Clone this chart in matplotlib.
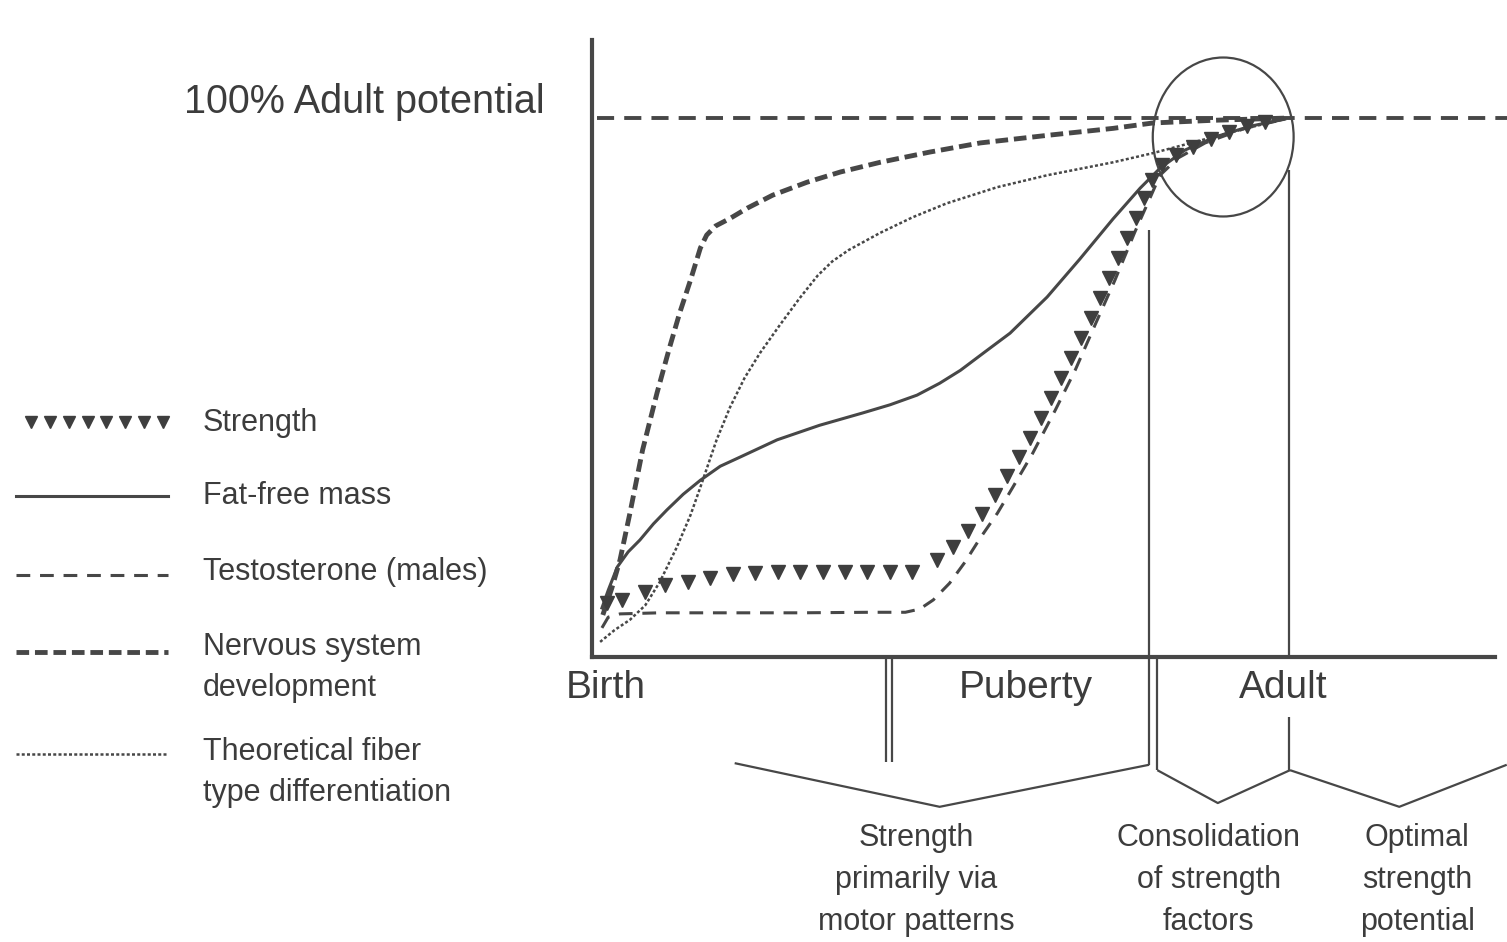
import numpy as np
import matplotlib
matplotlib.use("Agg")
import matplotlib.pyplot as plt
from matplotlib.patches import Ellipse

plt.rcParams['font.family'] = ['Liberation Sans', 'DejaVu Sans']

# ---------------- data (x: developmental stage, 0 = birth; y: % of adult potential)
strength_x = [1.7, 3.3, 5.9, 8.1, 10.6, 13.1, 15.6, 18.1, 20.6, 23.0, 25.6, 28.0, 30.5, 33.0, 35.4,
              38.2, 40.0, 41.6, 43.2, 44.6, 46.0, 47.3, 48.5, 49.7, 50.8, 51.9, 53.0, 54.2, 55.3,
              56.3, 57.3, 58.3, 59.2, 60.2, 61.1, 62.0, 63.1, 64.7, 66.6, 68.5, 70.5, 72.5, 74.5]
strength_y = [10.0, 10.6, 12.1, 13.4, 13.9, 14.7, 15.4, 15.6, 15.8, 15.8, 15.8, 15.8, 15.8, 15.8, 15.8,
              18.0, 20.4, 23.4, 26.5, 30.1, 33.6, 37.1, 40.6, 44.3, 48.1, 51.8, 55.5, 59.2, 62.9,
              66.6, 70.3, 74.0, 77.7, 81.4, 85.2, 88.5, 91.3, 93.1, 94.6, 96.1, 97.4, 98.5, 99.3]

ffm_x = [1.1, 1.8, 2.8, 4.0, 5.3, 6.8, 8.3, 10.1, 12.0, 14.2, 16.4, 20.5, 25.2, 30.0, 33.0, 36.0,
         38.5, 40.8, 43.5, 46.3, 50.4, 54.0, 57.7, 60.7, 62.9, 65.7, 69.0, 72.9, 76.7]
ffm_y = [9.1, 12.4, 16.7, 19.5, 21.7, 24.7, 27.3, 30.2, 32.8, 35.4, 37.1, 40.3, 43.0, 45.3, 46.8, 48.6,
         50.8, 53.2, 56.6, 60.1, 66.8, 73.8, 81.3, 87.0, 90.7, 94.1, 96.5, 98.5, 99.8]

testo_x = [1.1, 1.8, 3.1, 7.5, 14.2, 23.0, 30.8, 34.7, 36.3, 37.8, 39.6, 41.3, 43.0, 44.9, 46.6,
           48.8, 51.3, 53.5, 55.7, 57.9, 60.1, 61.8, 62.9, 64.9, 67.9, 72.3, 76.7]
testo_y = [5.4, 7.4, 8.0, 8.2, 8.2, 8.2, 8.3, 8.3, 8.9, 10.6, 13.7, 17.6, 22.1, 26.7, 31.5,
           37.8, 45.8, 53.2, 61.6, 69.9, 78.8, 85.2, 89.4, 92.6, 95.4, 98.1, 99.8]

nerv_x = [1.2, 2.2, 3.1, 4.2, 5.6, 7.2, 8.6, 9.7, 10.9, 12.0, 12.7, 13.7, 15.3, 17.2, 20.0, 23.8,
          27.5, 31.9, 37.4, 43.0, 50.4, 57.7, 62.1, 68.8, 76.7]
nerv_y = [7.8, 12.8, 18.0, 26.7, 38.4, 49.0, 57.5, 63.8, 69.9, 75.9, 78.3, 80.0, 81.4, 83.3, 85.7, 88.1,
          90.0, 91.8, 93.7, 95.4, 96.8, 98.1, 99.1, 99.6, 100.0]

fiber_x = [0.9, 2.5, 4.2, 5.9, 7.5, 9.4, 10.9, 12.0, 13.8, 15.3, 16.9, 18.6, 20.8, 23.0, 25.0, 26.6,
           28.4, 31.9, 35.5, 39.3, 44.9, 50.4, 57.7, 62.1, 68.8, 72.9, 76.7]
fiber_y = [2.8, 5.0, 6.9, 9.6, 13.9, 20.4, 26.3, 31.5, 40.3, 46.4, 51.8, 56.4, 61.6, 66.6, 70.8, 73.4,
           75.5, 78.7, 81.6, 84.2, 87.2, 89.4, 91.8, 93.5, 96.5, 98.3, 99.8]

adult_level = 100
stage_labels = ['Birth', 'Puberty', 'Adult']
stage_label_x = [1.5, 48.0, 76.5]
puberty_x = [32.6, 33.2]
consol_x = [61.7, 62.6]
adult_x = 77.2

phase_labels = ['Strength\nprimarily via\nmotor patterns',
                'Consolidation\nof strength\nfactors',
                'Optimal\nstrength\npotential']
phase_label_x = [35.9, 68.3, 91.4]
# bracket (start, middle, end) of each phase
phase_start = [15.8, 62.6, 77.3]
phase_mid = [38.5, 69.3, 89.4]
phase_end = [61.7, 77.3, 101.3]

legend_labels = ['Strength', 'Fat-free mass', 'Testosterone (males)',
                 'Nervous system\ndevelopment', 'Theoretical fiber\ntype differentiation']

# ---------------- styles
LC = '#474747'
TC = '#3c3c3c'
st_ffm = dict(color=LC, lw=2.2, ls='-')
st_testo = dict(color=LC, lw=2.2, ls=(0, (4.5, 3.2)), dash_capstyle='butt')
st_nerv = dict(color=LC, lw=3.5, ls=(0, (2.6, 1.2)), dash_capstyle='butt')
st_fiber = dict(color=LC, lw=1.8, ls=(0, (1.2, 0.9)), dash_capstyle='butt')
st_frame = dict(color=LC, lw=1.6, solid_capstyle='butt', clip_on=False)

W, H = 1507, 942
fig = plt.figure(figsize=(W / 100, H / 100), dpi=100)
fig.patch.set_facecolor('white')

lax = fig.add_axes([0, 0, 1, 1])
lax.set_xlim(0, W)
lax.set_ylim(H, 0)
lax.axis('off')

ax = fig.add_axes([592 / W, (H - 657) / H, 903 / W, 617 / H])
ax.set_xlim(0, 100)
ax.set_ylim(0, 114.5)
ax.patch.set_visible(False)
for s in ['top', 'right']:
    ax.spines[s].set_visible(False)
for s in ['left', 'bottom']:
    ax.spines[s].set_linewidth(3)
    ax.spines[s].set_color(LC)
ax.set_xticks([])
ax.set_yticks([])

# 100 % line
ax.plot([0.5, 101.3], [adult_level, adult_level], color=LC, lw=2.8,
        ls=(0, (4.4, 2.6)), dash_capstyle='butt', clip_on=False)
ax.text(-5.2, 103.0, '100% Adult potential', ha='right', va='center', fontsize=28.5, color=TC)

# curves
ax.plot(fiber_x, fiber_y, **st_fiber)
ax.plot(nerv_x, nerv_y, **st_nerv)
ax.plot(testo_x, testo_y, **st_testo)
ax.plot(ffm_x, ffm_y, **st_ffm)
ax.plot(strength_x, strength_y, ls='none', marker='v', ms=10, color='#3e3e3e', clip_on=False)

# circle around convergence
ax.add_patch(Ellipse((69.9, 96.5), 15.6, 29.5, fill=False, ec=LC, lw=1.6, clip_on=False))

# vertical stage markers
for px in puberty_x:
    ax.plot([px, px], [0, -19.5], **st_frame)
ax.plot([consol_x[0]] * 2, [79.2, -20.0], **st_frame)
ax.plot([consol_x[1]] * 2, [0, -21.0], **st_frame)
ax.plot([adult_x] * 2, [90.4, 0], **st_frame)
ax.plot([adult_x] * 2, [-11.1, -21.0], **st_frame)

# brackets
end_y = [(-19.7, -20.0), (-21.0, -21.0), (-21.0, -20.0)]
mid_y = [-27.8, -27.1, -27.8]
for a, m, b, (ya, yb), ym in zip(phase_start, phase_mid, phase_end, end_y, mid_y):
    ax.plot([a, m, b], [ya, ym, yb], **st_frame)

# stage labels
for lab, x in zip(stage_labels, stage_label_x):
    ax.text(x, -5.8, lab, ha='center', va='center', fontsize=28, color=TC)

# phase labels
for lab, x in zip(phase_labels, phase_label_x):
    for j, line in enumerate(lab.split('\n')):
        ax.text(x, -33.6 - 7.75 * j, line, ha='center', va='center', fontsize=22, color=TC)

# legend (drawn in figure pixel space)
key_y = [422, 496, 575, 652, 754]
text_y = [423, 496, 572, 647, 752]
key_styles = [None, st_ffm, st_testo, st_nerv, st_fiber]
for lab, ky, ty, sty in zip(legend_labels, key_y, text_y, key_styles):
    if sty is None:
        xs = np.linspace(31, 163, 8)
        lax.plot(xs, [ky] * len(xs), ls='none', marker='v', ms=8.5, color='#3e3e3e')
    else:
        lax.plot([16, 168], [ky, ky], **sty)
    for j, line in enumerate(lab.split('\n')):
        lax.text(203, ty + 41 * j, line, ha='left', va='center', fontsize=22, color=TC)

fig.savefig('out.png', dpi=100, facecolor='white')
